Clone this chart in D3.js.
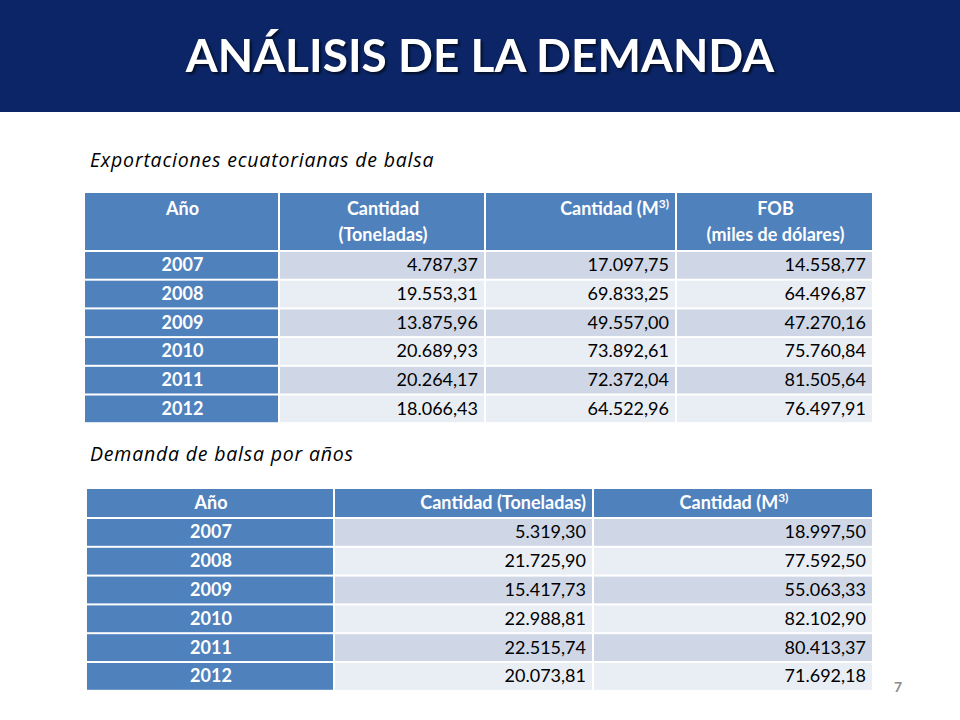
<!DOCTYPE html><html><head><meta charset="utf-8"><script src="https://cdn.jsdelivr.net/npm/d3@7"></script>
<style>body{margin:0;background:#fff}svg{display:block}</style></head><body>
<script>
const years=["2007","2008","2009","2010","2011","2012"];
const expTon=["4.787,37","19.553,31","13.875,96","20.689,93","20.264,17","18.066,43"];
const expM3=["17.097,75","69.833,25","49.557,00","73.892,61","72.372,04","64.522,96"];
const expFOB=["14.558,77","64.496,87","47.270,16","75.760,84","81.505,64","76.497,91"];
const demTon=["5.319,30","21.725,90","15.417,73","22.988,81","22.515,74","20.073,81"];
const demM3=["18.997,50","77.592,50","55.063,33","82.102,90","80.413,37","71.692,18"];
const F="Lato, 'Open Sans', sans-serif";
const svg=d3.select("body").append("svg").attr("width",960).attr("height",720);
svg.append("rect").attr("width",960).attr("height",112).attr("fill","#0b2566");
svg.append("text").attr("x",480).attr("y",72).attr("text-anchor","middle").attr("fill","#fff")
 .style("filter","drop-shadow(2px 2px 1px rgba(0,0,0,0.6))")
 .attr("font-family",F).attr("font-weight","bold").attr("font-size",46).text("ANÁLISIS DE LA DEMANDA");
const SF="'Open Sans', sans-serif";
svg.append("text").attr("x",90).attr("y",167).attr("font-family",SF).attr("font-style","italic").attr("font-size",19.5).attr("letter-spacing",0.8).text("Exportaciones ecuatorianas de balsa");
svg.append("text").attr("x",90).attr("y",461).attr("font-family",SF).attr("font-style","italic").attr("font-size",19.5).attr("letter-spacing",0.8).text("Demanda de balsa por años");
const blue="#4f81bd",c1="#cfd7e6",c2="#e9edf4";
function table(cols,headers,data,top,hh,rowTop,rowH,gap){
  const y=d3.scaleBand().domain(years).range([rowTop,rowTop+years.length*rowH]);
  const g=svg.append("g").attr("font-family",F).attr("font-size",18);
  headers.forEach((h,j)=>{
    const x0=cols[j],x1=cols[j+1];
    g.append("rect").attr("x",x0).attr("y",top).attr("width",x1-x0-2).attr("height",hh).attr("fill",blue);
    h.lines.forEach((l,k)=>{
      const t=g.append("text").attr("fill","#fff").attr("font-weight","bold")
       .attr("x",h.anchor==="end"?x1-8:(x0+x1)/2).attr("text-anchor",h.anchor||"middle")
       .attr("y",top+(hh>40?22+k*26:hh/2+6));
      if(l.sup){t.text(l.t);t.append("tspan").attr("font-size",12).attr("dy",-7).text(l.sup);}
      else t.text(l.t);
    });
  });
  years.forEach((yr,i)=>{
    const yy=y(yr);
    g.append("rect").attr("x",cols[0]).attr("y",yy).attr("width",cols[1]-cols[0]-2).attr("height",rowH-gap).attr("fill",blue);
    g.append("text").attr("x",(cols[0]+cols[1])/2).attr("y",yy+(rowH-gap)/2+6).attr("text-anchor","middle").attr("fill","#fff").attr("font-weight","bold").text(yr);
    data.forEach((arr,j)=>{
      const x0=cols[j+1],x1=cols[j+2];
      g.append("rect").attr("x",x0).attr("y",yy).attr("width",x1-x0-2).attr("height",rowH-gap).attr("fill",i%2?c2:c1);
      g.append("text").attr("x",x1-8).attr("y",yy+(rowH-gap)/2+6).attr("text-anchor","end").attr("fill","#000").text(arr[i]);
    });
  });
}
table([85,280,486,677,874],
 [{lines:[{t:"Año"}]},{lines:[{t:"Cantidad"},{t:"(Toneladas)"}]},{lines:[{t:"Cantidad (M",sup:"3)"}],anchor:"end"},{lines:[{t:"FOB"},{t:"(miles de dólares)"}]}],
 [expTon,expM3,expFOB],193,57,252,28.7,2);
table([87,335,594,874],
 [{lines:[{t:"Año"}]},{lines:[{t:"Cantidad (Toneladas)"}],anchor:"end"},{lines:[{t:"Cantidad (M",sup:"3)"}]}],
 [demTon,demM3],489,28,519,28.8,2);
svg.append("text").attr("x",898).attr("y",692).attr("text-anchor","middle").attr("font-family",F).attr("font-weight","bold").attr("font-size",14).attr("fill","#8c8c8c").text("7");
</script></body></html>
